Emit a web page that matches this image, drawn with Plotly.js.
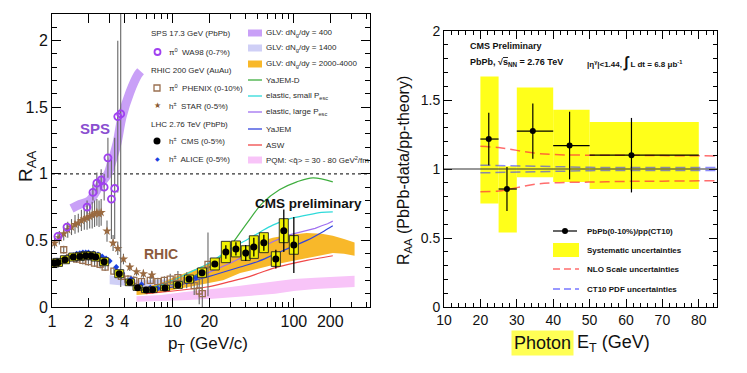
<!DOCTYPE html>
<html><head><meta charset="utf-8">
<script src="https://cdn.plot.ly/plotly-3.0.1.min.js"></script>
<style>html,body{margin:0;padding:0;background:#fff}</style>
</head><body><div id="chart" style="width:747px;height:373px"></div>
<script>
const F = '"Liberation Sans", Arial, Helvetica, sans-serif';
const W = 747, H = 373;

// ---------------- Left panel data ----------------
const cmsPt   = [1.04,1.12,1.28,1.5,1.7,1.9,2.1,2.3,2.7,3.6,4.4,5.1,6.0,6.8,8.6,11,13.6,17.4,22.2,27.4,33.2,40,46.7,56.5,71,82.6,100];
const cmsR    = [0.33,0.335,0.355,0.375,0.38,0.385,0.385,0.375,0.34,0.25,0.185,0.145,0.128,0.13,0.143,0.165,0.21,0.258,0.323,0.413,0.436,0.405,0.45,0.483,0.36,0.573,0.466];
const cmsStat = [0.005,0.005,0.005,0.005,0.005,0.005,0.005,0.005,0.005,0.005,0.005,0.005,0.005,0.005,0.006,0.008,0.01,0.012,0.015,0.05,0.05,0.06,0.07,0.06,0.07,0.16,0.21];
const cmsSys  = [0.03,0.03,0.03,0.03,0.03,0.03,0.03,0.03,0.03,0.03,0.025,0.02,0.02,0.02,0.02,0.025,0.03,0.035,0.045,0.08,0.06,0.055,0.085,0.075,0.055,0.09,0.07];

const alicePt = [1.0,1.1,1.2,1.3,1.4,1.5,1.6,1.7,1.8,1.9,2.0,2.2,2.4,2.6,2.8,3.0,3.4,3.8,4.5,5.5,6.5,7.5,9,11,13,15.5,18];
const aliceR  = [0.34,0.35,0.36,0.37,0.38,0.39,0.40,0.405,0.41,0.41,0.41,0.405,0.395,0.38,0.365,0.345,0.3,0.255,0.21,0.17,0.145,0.14,0.15,0.17,0.19,0.22,0.25];

const phenixPt  = [1.1,1.25,1.4,1.6,1.8,2.0,2.25,2.5,2.75,3.25,3.75,4.25,4.75,5.5,6.5,7.5,8.5,9.5,11,13,15,16.5,17.5,19.5];
const phenixR   = [0.33,0.43,0.37,0.36,0.35,0.34,0.33,0.32,0.30,0.27,0.23,0.21,0.20,0.19,0.20,0.19,0.20,0.21,0.22,0.20,0.16,0.12,0.10,0.32];
const phenixErr = [0.03,0.03,0.03,0.03,0.03,0.03,0.03,0.03,0.03,0.03,0.03,0.03,0.03,0.03,0.03,0.03,0.03,0.04,0.05,0.06,0.07,0.1,0.12,0.24];

const starPt  = [1.05,1.15,1.25,1.35,1.45,1.55,1.65,1.75,1.85,1.95,2.05,2.15,2.25,2.35,2.45,2.55,2.85,3.2,3.5,3.9,4.4,5.0,5.7,6.7];
const starR   = [0.48,0.52,0.55,0.58,0.60,0.62,0.63,0.65,0.66,0.67,0.68,0.69,0.70,0.71,0.70,0.71,0.57,0.48,0.44,0.36,0.30,0.265,0.25,0.24];
const starErr = [0.04,0.05,0.05,0.06,0.06,0.07,0.07,0.08,0.08,0.09,0.09,0.1,0.1,0.1,0.1,0.1,0.08,0.06,0.05,0.04,0.03,0.03,0.03,0.03];

const wa98Pt  = [1.12,1.33,1.95,2.18,2.35,2.55,2.7,2.9,3.1,3.3,3.5,3.7];
const wa98R   = [0.53,0.60,0.75,0.86,0.93,0.955,0.90,1.12,0.81,0.89,1.43,1.45];
const wa98Err = [0.02,0.03,0.05,0.06,0.08,0.08,0.1,0.15,0.3,0.38,0.57,1.3];

const glvSpsPt = [1.45,1.7,2.05,2.5,2.9,3.1,3.45,3.8,4.4,5.1,5.4];
const glvSpsR  = [0.74,0.77,0.80,0.92,1.0,1.08,1.23,1.43,1.61,1.74,1.77];

const glvRhicPt = [3,4,5,7,10,15,20];
const glvRhicLo = [0.17,0.16,0.15,0.15,0.16,0.17,0.18];
const glvRhicHi = [0.24,0.21,0.20,0.20,0.21,0.22,0.23];

const glvLhcPt = [5,6,8,10,14,20,26,36,52,67,90,128,170,210,260,318];
const glvLhcHi = [0.14,0.15,0.18,0.22,0.27,0.33,0.39,0.44,0.49,0.52,0.54,0.555,0.55,0.535,0.51,0.485];
const glvLhcLo = [0.09,0.095,0.11,0.13,0.15,0.18,0.20,0.255,0.29,0.315,0.34,0.37,0.39,0.405,0.40,0.385];

const pqmPt = [5,8,12,20,30,45,70,100,150,220,318];
const pqmHi = [0.08,0.09,0.11,0.13,0.15,0.17,0.19,0.21,0.22,0.23,0.235];
const pqmLo = [0.04,0.045,0.05,0.06,0.07,0.085,0.10,0.12,0.135,0.145,0.15];

const yajemDPt = [7,10,14,20,25,30,41,55,76,106,144,210];
const yajemDR  = [0.14,0.17,0.22,0.30,0.38,0.46,0.63,0.78,0.88,0.94,0.97,0.94];
const elSmallPt = [7,10,13.8,20,30,40,52,67,90,128,170,210];
const elSmallR  = [0.15,0.20,0.26,0.33,0.44,0.50,0.56,0.615,0.66,0.69,0.71,0.715];
const elLargePt = [7,10,14,20,30,45,67,90,110,128,150,170,190,210];
const elLargeR  = [0.14,0.165,0.20,0.26,0.33,0.41,0.49,0.54,0.56,0.58,0.59,0.61,0.625,0.645];
const yajemPt = [7,10,14,20,28,36,50,67,90,128,170,210];
const yajemR  = [0.12,0.15,0.19,0.23,0.27,0.30,0.34,0.39,0.44,0.50,0.56,0.61];
const aswPt = [6,10,14,19,28,40,52,67,90,128,170,210];
const aswR  = [0.10,0.12,0.135,0.15,0.185,0.22,0.255,0.29,0.32,0.35,0.37,0.385];

const xTickVals = [1,2,3,4,10,20,100,200];
const xTickText = ['1','2','3','4','10','20','100','200'];
const xMinorVals = [5,6,7,8,9,30,40,50,60,70,80,90,300,400];
const yTickVals = [0,0.5,1,1.5,2];
const yTickText = ['0','0.5','1','1.5','2'];

// ---------------- Right panel data ----------------
const binLo = [20,25,30,40,50];
const binHi = [25,30,40,50,80];
const photonEt = [22.3,27.3,34.4,44.5,61.5];
const photonR  = [1.217,0.855,1.275,1.17,1.10];
const photonStat = [0.19,0.16,0.20,0.245,0.27];
const sysLo = [0.75,0.54,0.94,0.906,0.855];
const sysHi = [1.67,1.02,1.59,1.43,1.34];
const scaleEt = [20,25,30,35,40,50,60,70,85];
const scaleHi = [1.165,1.155,1.135,1.115,1.105,1.10,1.10,1.097,1.095];
const scaleLo = [0.835,0.84,0.865,0.89,0.90,0.905,0.91,0.912,0.915];
const pdfEt = [20,25,30,40,50,60,85];
const pdfHi = [1.028,1.025,1.02,1.015,1.012,1.01,1.01];
const pdfLo = [0.972,0.975,0.98,0.985,0.988,0.99,0.99];

// ---------------- helpers ----------------
function band(x, lo, hi){ return {x: x.concat(x.slice().reverse()), y: hi.concat(lo.slice().reverse())}; }
const boxK = 1.09;
const bx = [], by = [];
cmsPt.forEach((p,i)=>{ const x0=p/boxK, x1=p*boxK, y0=cmsR[i]-cmsSys[i], y1=cmsR[i]+cmsSys[i];
  bx.push(x0,x1,x1,x0,x0,null); by.push(y0,y0,y1,y1,y0,null); });

const L = {xaxis:'x', yaxis:'y', showlegend:false, hoverinfo:'skip'};
const R = {xaxis:'x2', yaxis:'y2', showlegend:false, hoverinfo:'skip'};
const ebGrey = c => ({type:'data', array:c, visible:true, color:'#666', thickness:1.1, width:0});

const pq = band(pqmPt,pqmLo,pqmHi), gl = band(glvLhcPt,glvLhcLo,glvLhcHi), gr = band(glvRhicPt,glvRhicLo,glvRhicHi);
const traces = [
  Object.assign({x:pq.x, y:pq.y, mode:'lines', fill:'toself', fillcolor:'#f8c4f8', line:{width:0}}, L),
  Object.assign({x:gr.x, y:gr.y, mode:'lines', fill:'toself', fillcolor:'#cfcff6', line:{width:0}}, L),
  Object.assign({x:gl.x, y:gl.y, mode:'lines', fill:'toself', fillcolor:'#f8b82a', line:{width:0}}, L),
  Object.assign({x:yajemDPt, y:yajemDR, mode:'lines', line:{color:'#3fae3f', width:1.2, shape:'spline'}}, L),
  Object.assign({x:elSmallPt, y:elSmallR, mode:'lines', line:{color:'#2fdada', width:1.2, shape:'spline'}}, L),
  Object.assign({x:elLargePt, y:elLargeR, mode:'lines', line:{color:'#a070f0', width:1.2}}, L),
  Object.assign({x:yajemPt, y:yajemR, mode:'lines', line:{color:'#3344dd', width:1.2, shape:'spline'}}, L),
  Object.assign({x:aswPt, y:aswR, mode:'lines', line:{color:'#f04848', width:1.2, shape:'spline'}}, L),
  Object.assign({x:glvSpsPt, y:glvSpsR, mode:'lines', line:{color:'#c9a0f7', width:9, shape:'spline'}}, L),
  Object.assign({x:phenixPt, y:phenixR, mode:'markers', error_y:ebGrey(phenixErr),
     marker:{symbol:'square-open', size:6, color:'#9a7050', line:{width:1.3}}}, L),
  Object.assign({x:starPt, y:starR, mode:'markers', error_y:ebGrey(starErr),
     marker:{symbol:'star', size:7, color:'#9a6a40', line:{width:0}}}, L),
  Object.assign({x:wa98Pt, y:wa98R, mode:'markers', error_y:ebGrey(wa98Err),
     marker:{symbol:'circle-open', size:7, color:'#a040f0', line:{width:1.8}}}, L),
  Object.assign({x:alicePt, y:aliceR, mode:'markers',
     marker:{symbol:'diamond', size:4.5, color:'#1a40e0'}}, L),
  Object.assign({x:bx, y:by, mode:'lines', fill:'toself', fillcolor:'#f2f200', line:{color:'#222', width:0.9}, connectgaps:false}, L),
  Object.assign({x:cmsPt, y:cmsR, mode:'markers', error_y:{type:'data', array:cmsStat, color:'#000', thickness:1.3, width:0},
     marker:{symbol:'circle', size:7, color:'#000'}}, L),
  // right panel
  Object.assign({type:'bar', x:binLo.map((v,i)=>(v+binHi[i])/2), width:binLo.map((v,i)=>binHi[i]-v),
     base:sysLo, y:sysHi.map((v,i)=>v-sysLo[i]), marker:{color:'#ffff1a', line:{width:0}}}, R),
  Object.assign({x:scaleEt, y:scaleHi, mode:'lines', line:{color:'rgba(255,60,60,0.75)', width:1.5, dash:'10px,5px', shape:'spline'}}, R),
  Object.assign({x:scaleEt, y:scaleLo, mode:'lines', line:{color:'rgba(255,60,60,0.75)', width:1.5, dash:'10px,5px', shape:'spline'}}, R),
  Object.assign({x:pdfEt, y:pdfHi, mode:'lines', line:{color:'rgba(60,60,255,0.6)', width:1.5, dash:'10px,5px'}}, R),
  Object.assign({x:pdfEt, y:pdfLo, mode:'lines', line:{color:'rgba(60,60,255,0.6)', width:1.5, dash:'10px,5px'}}, R),
  Object.assign({x:photonEt, y:photonR, mode:'markers',
     error_y:{type:'data', array:photonStat, color:'#000', thickness:1.2, width:0},
     error_x:{type:'data', array:photonEt.map((v,i)=>binHi[i]-v), arrayminus:photonEt.map((v,i)=>v-binLo[i]), color:'#000', thickness:1.2, width:0},
     marker:{symbol:'circle', size:6, color:'#000'}}, R)
];

function ann(text, x, y, size, color, extra){
  return Object.assign({text:text, x:x/W, y:1-y/H, xref:'paper', yref:'paper', showarrow:false,
    xanchor:'left', yanchor:'middle', font:{family:F, size:size, color:color}}, extra||{});
}
function rectP(x0,y0,x1,y1,fill,line){ return {type:'rect', xref:'paper', yref:'paper', x0:x0/W, x1:x1/W, y0:1-y0/H, y1:1-y1/H,
  fillcolor:fill, line:line||{width:0}}; }
function lineP(x0,x1,y,color,dash,w){ return {type:'line', xref:'paper', yref:'paper', x0:x0/W, x1:x1/W, y0:1-y/H, y1:1-y/H,
  line:{color:color, width:w||1.3, dash:dash||'solid'}}; }

const lg = '#2a2a2a';
const annotations = [
  // left panel labels
  ann('<b>SPS</b>', 95, 128, 15, '#8a4fd0', {xanchor:'center'}),
  ann('<b>RHIC</b>', 161, 254, 14, '#8b5a3c', {xanchor:'center'}),
  ann('<b>CMS preliminary</b>', 308, 203, 13.5, '#111', {xanchor:'center'}),
  // left legend column 1
  ann('SPS 17.3 GeV (PbPb)', 149, 33, 8, lg),
  ann('π<sup>0</sup>  WA98 (0-7%)', 167, 52, 8, lg),
  ann('RHIC 200 GeV (AuAu)', 149, 70, 8, lg),
  ann('π<sup>0</sup>  PHENIX (0-10%)', 167, 88, 8, lg),
  ann('★', 157, 106, 8, '#8a5a30', {xanchor:'center'}),
  ann('h<sup>±</sup>  STAR (0-5%)', 167, 106, 8, lg),
  ann('LHC 2.76 TeV (PbPb)', 149, 124, 8, lg),
  ann('h<sup>±</sup>  CMS (0-5%)', 167, 141, 8, lg),
  ann('◆', 157, 159, 6, '#1a40e0', {xanchor:'center'}),
  ann('h<sup>±</sup>  ALICE (0-5%)', 167, 159, 8, lg),
  // left legend column 2
  ann('GLV: dN<sub>g</sub>/dy = 400', 264, 33, 8, lg),
  ann('GLV: dN<sub>g</sub>/dy = 1400', 264, 48, 8, lg),
  ann('GLV: dN<sub>g</sub>/dy = 2000-4000', 264, 64, 8, lg),
  ann('YaJEM-D', 264, 80, 8, lg),
  ann('elastic, small P<sub>esc</sub>', 264, 96, 8, lg),
  ann('elastic, large P<sub>esc</sub>', 264, 112, 8, lg),
  ann('YaJEM', 264, 129, 8, lg),
  ann('ASW', 264, 145, 8, lg),
  ann('PQM: &lt;q̂&gt; = 30 - 80 GeV<sup>2</sup>/fm', 264, 160, 8, lg),
  // axis titles left
  ann('R<sub>AA</sub>', 27, 166, 19, '#111', {xanchor:'center', textangle:-90}),
  ann('p<sub>T</sub> (GeV/c)', 208, 345, 17, '#111', {xanchor:'center'}),
  // right panel texts
  ann('<b>CMS Preliminary</b>', 468, 46, 9, '#111'),
  ann('<b>PbPb, √<span style="text-decoration:overline">s</span><sub>NN</sub> = 2.76 TeV</b>', 468, 62, 9, '#111'),
  ann('<b>|η<sup>γ</sup>|&lt;1.44, <span style="font-size:15px">∫</span> L dt = 6.8 μb<sup>-1</sup></b>', 585, 62, 8, '#111'),
  ann('<b>PbPb(0-10%)/pp(CT10)</b>', 585, 231, 8, '#111'),
  ann('<b>Systematic uncertainties</b>', 585, 250, 8, '#111'),
  ann('<b>NLO Scale uncertainties</b>', 585, 269, 8, '#111'),
  ann('<b>CT10 PDF uncertainties</b>', 585, 289, 8, '#111'),
  ann('R<sub>AA</sub> (PbPb-data/pp-theory)', 404, 170, 16, '#111', {xanchor:'center', textangle:-90}),
  ann('Photon', 542, 343, 18, '#111', {xanchor:'center', bgcolor:'#ffff55', borderpad:2}),
  ann('E<sub>T</sub> (GeV)', 575, 343, 18, '#111')
];

const shapes = [
  {type:'line', xref:'x domain', yref:'y', x0:0, x1:1, y0:1, y1:1, layer:'below', line:{color:'#333', width:1.3, dash:'dot'}},
  {type:'line', xref:'x2 domain', yref:'y2', x0:0, x1:1, y0:1, y1:1, line:{color:'#333', width:1.2}},
  // left legend symbols col1
  {type:'circle', xref:'paper', yref:'paper', x0:154.5/W, x1:160.5/W, y0:1-49/H, y1:1-55/H, line:{color:'#a040f0', width:1.8}},
  {type:'rect', xref:'paper', yref:'paper', x0:154/W, x1:160/W, y0:1-85/H, y1:1-91/H, line:{color:'#9a7050', width:1.3}},
  {type:'circle', xref:'paper', yref:'paper', x0:153.5/W, x1:160.5/W, y0:1-137.5/H, y1:1-144.5/H, fillcolor:'#000', line:{color:'#000', width:0}},
  // col2 swatches
  rectP(248,29.5,262,36.5,'#c9a0f7'),
  rectP(248,44.5,262,51.5,'#cfcff6'),
  rectP(248,60.5,262,67.5,'#f8b82a'),
  lineP(248,262,80,'#3fae3f'),
  lineP(248,262,96,'#2fdada'),
  lineP(248,262,112,'#a070f0'),
  lineP(248,262,129,'#3344dd'),
  lineP(248,262,145,'#f04848'),
  rectP(248,156.5,262,163.5,'#f8c4f8'),
  // right legend symbols
  lineP(553,577,231,'#000','solid',1.2),
  {type:'circle', xref:'paper', yref:'paper', x0:562/W, x1:568/W, y0:1-228/H, y1:1-234/H, fillcolor:'#000', line:{width:0}},
  rectP(553,243,579,257,'#ffff1a'),
  lineP(553,579,269,'rgba(255,60,60,0.75)','7px,4px',1.5),
  lineP(553,579,289,'rgba(60,60,255,0.7)','7px,4px',1.5)
];

const axBase = {showgrid:false, zeroline:false, showline:true, linecolor:'#000', linewidth:1, mirror:'ticks',
  ticks:'inside', tickcolor:'#000', tickfont:{family:F, size:16, color:'#111'}};

const layout = {
  width:W, height:H, margin:{l:0, r:0, t:0, b:0}, paper_bgcolor:'#fff', plot_bgcolor:'#fff',
  showlegend:false, font:{family:F},
  xaxis: Object.assign({}, axBase, {type:'log', range:[0, 2.63], domain:[52/W, 370/W], anchor:'y',
    tickmode:'array', tickvals:xTickVals, ticktext:xTickText, ticklen:9,
    minor:{tickmode:'array', tickvals:xMinorVals, ticks:'inside', ticklen:5, tickcolor:'#000', showgrid:false}}),
  yaxis: Object.assign({}, axBase, {range:[0, 2.2], domain:[1-307/H, 1-14/H], anchor:'x',
    tickmode:'array', tickvals:yTickVals, ticktext:yTickText, ticklen:9,
    minor:{dtick:0.1, ticks:'inside', ticklen:5, tickcolor:'#000', showgrid:false}}),
  xaxis2: Object.assign({}, axBase, {range:[10, 85], domain:[444/W, 717/W], anchor:'y2',
    tick0:10, dtick:10, ticklen:8, tickfont:{family:F, size:14, color:'#111'},
    minor:{dtick:2, ticks:'inside', ticklen:4, tickcolor:'#000', showgrid:false}}),
  yaxis2: Object.assign({}, axBase, {range:[0, 2], domain:[1-307/H, 1-31/H], anchor:'x2',
    tick0:0, dtick:0.5, ticklen:8, tickfont:{family:F, size:14, color:'#111'},
    minor:{dtick:0.1, ticks:'inside', ticklen:4, tickcolor:'#000', showgrid:false}}),
  annotations: annotations,
  shapes: shapes
};

Plotly.newPlot('chart', traces, layout, {displayModeBar:false});
</script></body></html>
